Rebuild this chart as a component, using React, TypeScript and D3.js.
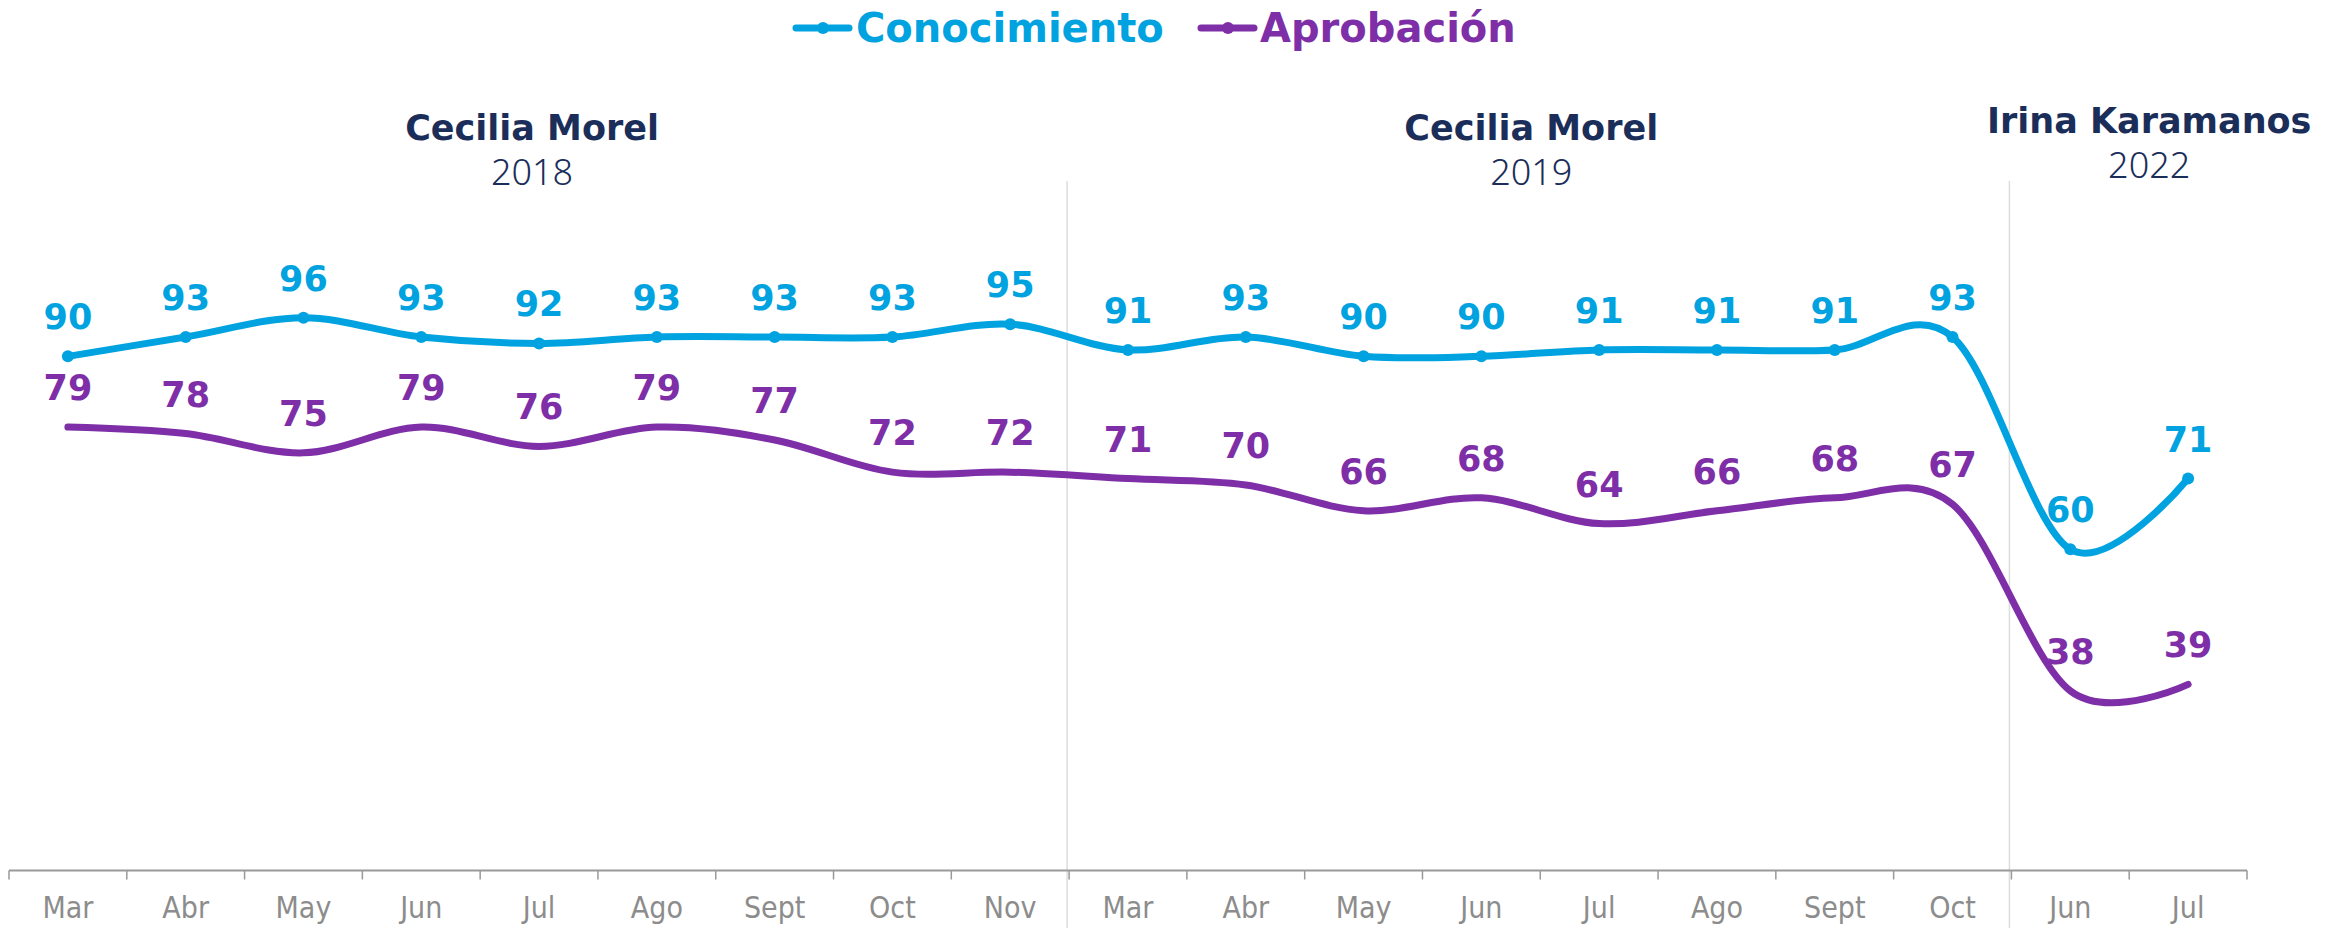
import { useEffect } from "react";
import * as d3 from "d3";

// categorias (meses) y series
const months = ["Mar", "Abr", "May", "Jun", "Jul", "Ago", "Sept", "Oct", "Nov", "Mar", "Abr", "May", "Jun", "Jul", "Ago", "Sept", "Oct", "Jun", "Jul"];
const conocimiento = [90, 93, 96, 93, 92, 93, 93, 93, 95, 91, 93, 90, 90, 91, 91, 91, 93, 60, 71];
const aprobacion = [79, 78, 75, 79, 76, 79, 77, 72, 72, 71, 70, 66, 68, 64, 66, 68, 67, 38, 39];

// periodos: nombre, año, primer y ultimo indice
const periodNames = ["Cecilia Morel", "Cecilia Morel", "Irina Karamanos"];
const periodYears = ["2018", "2019", "2022"];
const periodStart = [0, 9, 17];
const periodEnd = [8, 16, 18];

const W = 2344;
const H = 928;
const CYAN = "#00A3E0";
const PURPLE = "#7E2FA7";
const NAVY = "#1B2E5A";
const BOLD = "'DejaVu Sans', 'Noto Sans', sans-serif";

const App = () => {
    useEffect(() => {
        document.body.style.margin = "0";
    }, []);

    const idx = months.map((_, i) => String(i));
    const x = d3.scaleBand().domain(idx).range([9, 2247]).paddingInner(0).paddingOuter(0);
    const cx = (i) => x(String(i)) + x.bandwidth() / 2;
    const y = d3.scaleLinear().domain([10, 100]).range([871, 292]);

    const line = d3
        .line()
        .x((d, i) => cx(i))
        .y((d) => y(d))
        .curve(d3.curveCardinal.tension(0));

    const axisY = 870.5;
    const boundaries = d3.range(months.length + 1).map((i) => 9 + i * x.step());

    const headerNudge = [-7, -9, 20];
    const headerLift = [0, 0, 7];

    return (
        <svg width={W} height={H} style={{ display: "block", background: "#fff" }}>
            {/* separadores de periodo */}
            {periodStart.slice(1).map((s, i) => (
                <line key={"sep" + i} x1={x(String(s)) - 2} x2={x(String(s)) - 2} y1={181} y2={H} stroke="#DDDDDD" strokeWidth={1.5} />
            ))}

            {/* eje x */}
            <line x1={boundaries[0]} x2={boundaries[boundaries.length - 1]} y1={axisY} y2={axisY} stroke="#999" strokeWidth={2} />
            {boundaries.map((b, i) => (
                <line key={"t" + i} x1={b} x2={b} y1={axisY} y2={axisY + 9} stroke="#999" strokeWidth={1.5} />
            ))}
            {months.map((m, i) => (
                <text
                    key={"m" + i}
                    x={cx(i)}
                    y={918}
                    textAnchor="middle"
                    fill="#8C8C8C"
                    style={{ fontFamily: "'DejaVu Sans Condensed', 'DejaVu Sans', sans-serif", fontStretch: "condensed", fontWeight: 200, fontSize: 30 }}
                >
                    {m}
                </text>
            ))}

            {/* encabezados de periodo */}
            {periodNames.map((name, i) => {
                const c = (cx(periodStart[i]) + cx(periodEnd[i])) / 2 + headerNudge[i];
                return (
                    <g key={"h" + i} fill={NAVY} textAnchor="middle">
                        <text x={c} y={140 - headerLift[i]} style={{ fontFamily: BOLD, fontWeight: 700, fontSize: 35 }}>
                            {name}
                        </text>
                        <text x={c} y={185 - headerLift[i]} style={{ fontFamily: "'Noto Sans', sans-serif", fontWeight: 300, fontSize: 36 }}>
                            {periodYears[i]}
                        </text>
                    </g>
                );
            })}

            {/* series */}
            <path d={line(aprobacion)} fill="none" stroke={PURPLE} strokeWidth={7} strokeLinecap="round" />
            <path d={line(conocimiento)} fill="none" stroke={CYAN} strokeWidth={7} strokeLinecap="round" />
            {conocimiento.map((v, i) => (
                <circle key={"c" + i} cx={cx(i)} cy={y(v)} r={6} fill={CYAN} />
            ))}

            {/* etiquetas de datos */}
            {aprobacion.map((v, i) => (
                <text key={"la" + i} x={cx(i)} y={y(v) - 27} textAnchor="middle" fill={PURPLE} style={{ fontFamily: BOLD, fontWeight: 700, fontSize: 35 }}>
                    {v}
                </text>
            ))}
            {conocimiento.map((v, i) => (
                <text key={"lc" + i} x={cx(i)} y={y(v) - 27} textAnchor="middle" fill={CYAN} style={{ fontFamily: BOLD, fontWeight: 700, fontSize: 35 }}>
                    {v}
                </text>
            ))}

            {/* leyenda */}
            <g>
                <line x1={796} x2={849} y1={28} y2={28} stroke={CYAN} strokeWidth={7} strokeLinecap="round" />
                <circle cx={823} cy={28} r={6} fill={CYAN} />
                <text x={856} y={42} fill={CYAN} style={{ fontFamily: BOLD, fontWeight: 700, fontSize: 40 }}>
                    Conocimiento
                </text>
                <line x1={1201} x2={1254} y1={28} y2={28} stroke={PURPLE} strokeWidth={7} strokeLinecap="round" />
                <circle cx={1228} cy={28} r={6} fill={PURPLE} />
                <text x={1260} y={42} fill={PURPLE} style={{ fontFamily: BOLD, fontWeight: 700, fontSize: 40 }}>
                    Aprobación
                </text>
            </g>
        </svg>
    );
};

export default App;
